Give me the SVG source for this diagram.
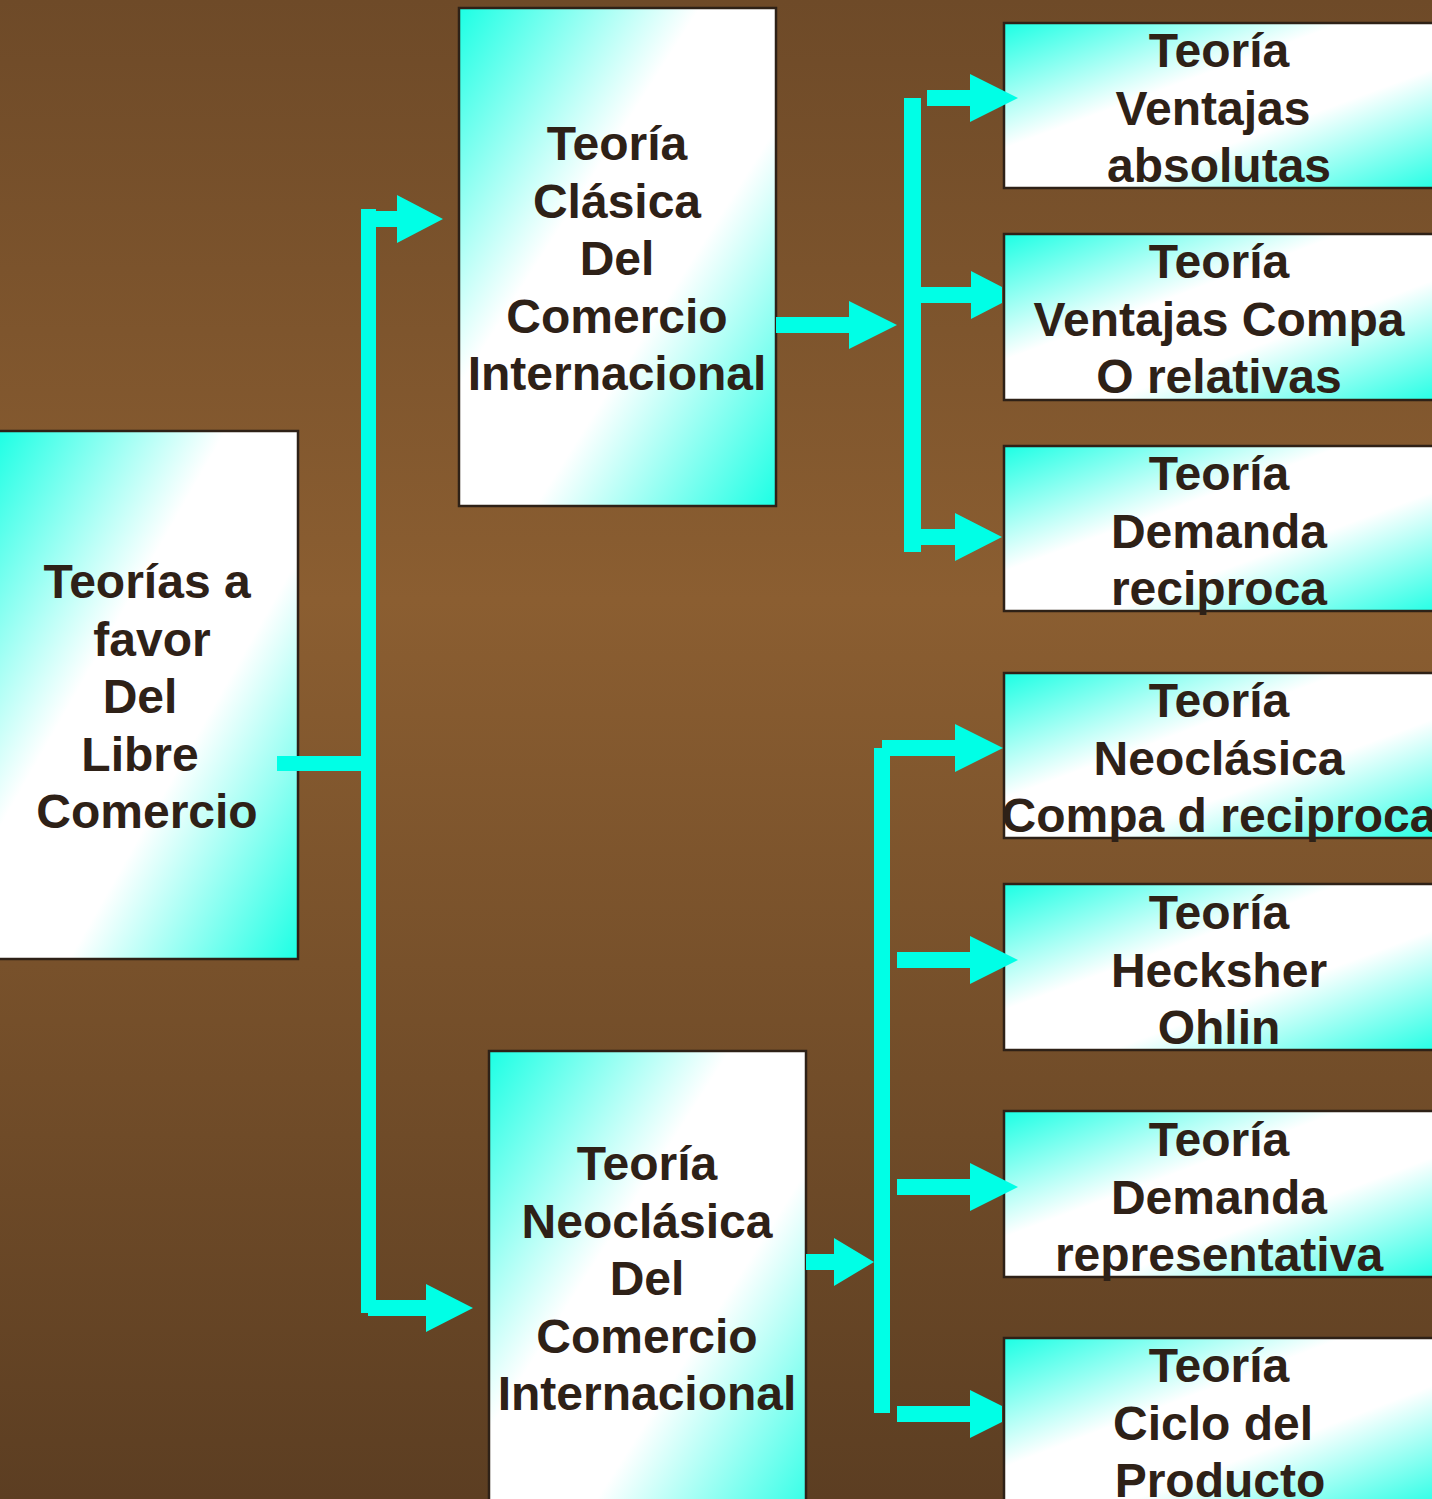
<svg xmlns="http://www.w3.org/2000/svg" width="1432" height="1499" viewBox="0 0 1432 1499">
<defs>
<linearGradient id="bg" x1="0" y1="0" x2="0" y2="1">
<stop offset="0" stop-color="#6E4A28"/>
<stop offset="0.4" stop-color="#8B5E31"/>
<stop offset="1" stop-color="#5C3E22"/>
</linearGradient>
<linearGradient id="box" x1="0" y1="0" x2="1" y2="1">
<stop offset="0" stop-color="#1CFFE4"/>
<stop offset="0.38" stop-color="#FFFFFF"/>
<stop offset="0.62" stop-color="#FFFFFF"/>
<stop offset="1" stop-color="#1CFFE4"/>
</linearGradient>
<style>
.node rect{fill:url(#box);stroke:#2E2117;stroke-width:2.5}
.node text{font-family:"Liberation Sans",Arial,sans-serif;font-weight:bold;font-size:48px;fill:#2E2117;text-anchor:middle}
#connectors rect,#connectors polygon{fill:#00FFE6}
</style>
</defs>
<rect x="0" y="0" width="1432" height="1499" fill="url(#bg)"/>

<g id="n-libre" class="node">
<rect x="-3" y="431" width="301" height="528"/>
<text x="147" y="598">Teorías a</text>
<text x="152" y="655.5">favor</text>
<text x="140" y="713">Del</text>
<text x="140" y="770.5">Libre</text>
<text x="147" y="828">Comercio</text>
</g>

<g id="n-clasica" class="node">
<rect x="459" y="8" width="317" height="498"/>
<text x="617" y="160">Teoría</text>
<text x="617" y="217.5">Clásica</text>
<text x="617" y="275">Del</text>
<text x="617" y="332.5">Comercio</text>
<text x="617" y="390">Internacional</text>
</g>

<g id="n-neoclasica" class="node">
<rect x="489" y="1051" width="317" height="498"/>
<text x="647" y="1180">Teoría</text>
<text x="647" y="1237.5">Neoclásica</text>
<text x="647" y="1295">Del</text>
<text x="647" y="1352.5">Comercio</text>
<text x="647" y="1410">Internacional</text>
</g>

<g id="n-absolutas" class="node">
<rect x="1004" y="23" width="446" height="165"/>
<text x="1219" y="67">Teoría</text>
<text x="1213" y="124.5">Ventajas</text>
<text x="1219" y="182">absolutas</text>
</g>

<g id="n-relativas" class="node">
<rect x="1004" y="234" width="446" height="166"/>
<text x="1219" y="278">Teoría</text>
<text x="1219" y="335.5">Ventajas Compa</text>
<text x="1219" y="393">O relativas</text>
</g>

<g id="n-demanda-reciproca" class="node">
<rect x="1004" y="446" width="446" height="165"/>
<text x="1219" y="490">Teoría</text>
<text x="1219" y="547.5">Demanda</text>
<text x="1219" y="605">reciproca</text>
</g>

<g id="n-neo-compa" class="node">
<rect x="1004" y="673" width="446" height="165"/>
<text x="1219" y="717">Teoría</text>
<text x="1219" y="774.5">Neoclásica</text>
<text x="1219" y="832">Compa d reciproca</text>
</g>

<g id="n-heckscher" class="node">
<rect x="1004" y="884" width="446" height="166"/>
<text x="1219" y="929">Teoría</text>
<text x="1219" y="986.5">Hecksher</text>
<text x="1219" y="1044">Ohlin</text>
</g>

<g id="n-representativa" class="node">
<rect x="1004" y="1111" width="446" height="166"/>
<text x="1219" y="1156">Teoría</text>
<text x="1219" y="1213.5">Demanda</text>
<text x="1219" y="1271">representativa</text>
</g>

<g id="n-ciclo" class="node">
<rect x="1004" y="1338" width="446" height="170"/>
<text x="1219" y="1382">Teoría</text>
<text x="1213" y="1439.5">Ciclo del</text>
<text x="1220" y="1497">Producto</text>
</g>

<g id="connectors">
<rect x="277" y="756" width="91" height="15"/>
<rect x="361" y="209" width="15" height="1104"/>
<polygon points="368,211 397,211 397,195 443,219 397,243 397,227 368,227"/>
<polygon points="368,1300 426,1300 426,1284 473,1308 426,1332 426,1316 368,1316"/>
<polygon points="776,317 849,317 849,301 897,325 849,349 849,333 776,333"/>
<rect x="904" y="98" width="17" height="454"/>
<polygon points="927,90 970,90 970,74 1018,98 970,122 970,106 927,106"/>
<polygon points="912,287 971,287 971,271 1002,287 1002,303 971,319 971,303 912,303"/>
<polygon points="912,529 955,529 955,513 1002,537 955,561 955,545 912,545"/>
<rect x="874" y="748" width="16" height="665"/>
<polygon points="882,740 955,740 955,724 1003,748 955,772 955,756 882,756"/>
<polygon points="897,952 970,952 970,936 1018,960 970,984 970,968 897,968"/>
<polygon points="897,1179 970,1179 970,1163 1018,1187 970,1211 970,1195 897,1195"/>
<polygon points="897,1406 970,1406 970,1390 1002,1406 1002,1422 970,1438 970,1422 897,1422"/>
<polygon points="806,1254 834,1254 834,1238 874,1262 834,1286 834,1270 806,1270"/>
</g>
</svg>
